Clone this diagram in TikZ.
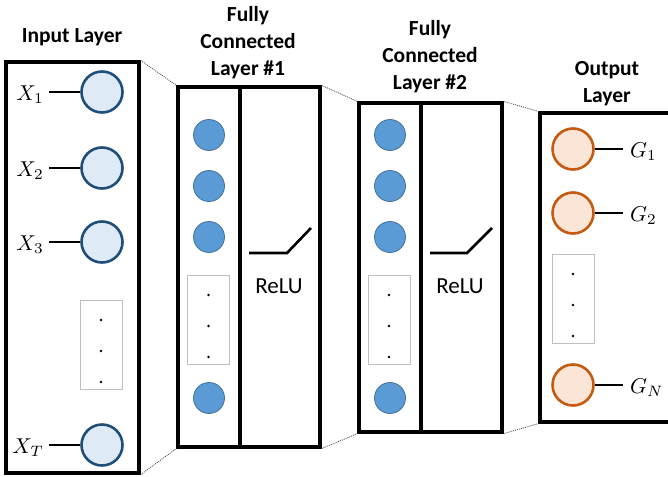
\documentclass[tikz,border=0pt]{standalone}
\usepackage{graphicx}
\usepackage[no-math]{fontspec}
\setmainfont{Carlito}
\usetikzlibrary{calc}
\definecolor{infill}{HTML}{DEEBF7}
\definecolor{inline}{HTML}{1F4E79}
\definecolor{fcfill}{HTML}{5B9BD5}
\definecolor{fcline}{HTML}{41719C}
\definecolor{outfill}{HTML}{FBE5D6}
\definecolor{outline}{HTML}{C55A11}
\definecolor{dotgray}{HTML}{BFBFBF}
\newcommand{\mylabmath}[1]{\scalebox{2.15}{$#1$}}
\begin{document}
\begin{tikzpicture}[x=1pt,y=-1pt,
  layerbox/.style={draw=black, line width=3.2pt, inner sep=0pt},
  incirc/.style={circle, draw=inline, fill=infill, line width=2.6pt, minimum size=41pt, inner sep=0pt},
  fccirc/.style={circle, draw=fcline, fill=fcfill, line width=0.8pt, minimum size=31pt, inner sep=0pt},
  outcirc/.style={circle, draw=outline, fill=outfill, line width=2.6pt, minimum size=41pt, inner sep=0pt},
  dotbox/.style={draw=dotgray, line width=1pt, minimum width=42pt, minimum height=89pt, inner sep=0pt},
  title/.style={font=\fontsize{21.5}{27}\selectfont\bfseries, align=center, inner sep=0pt},
  relutext/.style={font=\fontsize{23}{27}\selectfont, inner sep=0pt},
  mlab/.style={inner sep=0pt},
  link/.style={line width=1.3pt, black},
  joiner/.style={line width=0.8pt, black!70, dash pattern=on 1pt off 1pt},
  relu/.style={line width=2.6pt, black}
]
\useasboundingbox (0,0) rectangle (668,476);
\clip (0,0) rectangle (668,476);

% titles
\node[title] (t0) at (72,37) {Input Layer};
\node[title] (t1) at (248,43) {Fully\\Connected\\Layer \#1};
\node[title] (t2) at (430,57) {Fully\\Connected\\Layer \#2};
\node[title] (t3) at (607,84) {Output\\Layer};

% boxes
\node[layerbox, minimum width=133pt, minimum height=411pt] (ib) at (72.5,267.5) {};
\node[layerbox, minimum width=62pt, minimum height=360pt] (f1a) at (209,267) {};
\node[layerbox, minimum width=80pt, minimum height=360pt] (f1b) at (280,267) {};
\node[layerbox, minimum width=62pt, minimum height=329pt] (f2a) at (390,267.5) {};
\node[layerbox, minimum width=81pt, minimum height=329pt] (f2b) at (461.5,267.5) {};
\node[layerbox, minimum width=150pt, minimum height=309pt] (ob) at (615,267.5) {};

% joining dotted lines
\draw[joiner] (ib.north east) -- (f1a.north west);
\draw[joiner] (ib.south east) -- (f1a.south west);
\draw[joiner] (f1b.north east) -- (f2a.north west);
\draw[joiner] (f1b.south east) -- (f2a.south west);
\draw[joiner] (f2b.north east) -- (ob.north west);
\draw[joiner] (f2b.south east) -- (ob.south west);

% input layer
\node[incirc] (i1) at (102,92) {};
\node[incirc] (i2) at (102,168) {};
\node[incirc] (i3) at (102,242) {};
\node[incirc] (iT) at (102,445) {};
\node[mlab, anchor=base east, inner xsep=5pt] (x1) at (49,100) {\mylabmath{X_1}};
\node[mlab, anchor=base east, inner xsep=5pt] (x2) at (49,176) {\mylabmath{X_2}};
\node[mlab, anchor=base east, inner xsep=5pt] (x3) at (49,250) {\mylabmath{X_3}};
\node[mlab, anchor=base east, inner xsep=5pt] (xT) at (49,453) {\mylabmath{X_T}};
\foreach \n/\c in {x1/i1,x2/i2,x3/i3,xT/iT}
  \draw[link] (\n.east |- \c.west) -- (\c.west);
\node[dotbox] (d0) at (101,344.5) {};
\foreach \dy in {-31,0,31}
  \fill ($(d0.center)+(0,6.5+\dy)$) circle (1.3pt);

% FC layer 1
\node[fccirc] (a1) at (209,135) {};
\node[fccirc] (a2) at (209,186) {};
\node[fccirc] (a3) at (209,237) {};
\node[fccirc] (a4) at (209,398) {};
\node[dotbox] (d1) at (208.5,319.5) {};
\foreach \dy in {-31,0,31}
  \fill ($(d1.center)+(0,6.5+\dy)$) circle (1.3pt);
\coordinate (r1a) at (249,253);
\coordinate (r1b) at (287,253);
\coordinate (r1c) at (311,228);
\draw[relu] (r1a) -- (r1b) -- (r1c);
\node[relutext] (rl1) at (279,286) {ReLU};

% FC layer 2
\node[fccirc] (b1) at (390,135) {};
\node[fccirc] (b2) at (390,186) {};
\node[fccirc] (b3) at (390,237) {};
\node[fccirc] (b4) at (390,398) {};
\node[dotbox] (d2) at (389,319.5) {};
\foreach \dy in {-31,0,31}
  \fill ($(d2.center)+(0,6.5+\dy)$) circle (1.3pt);
\coordinate (r2a) at (430,253);
\coordinate (r2b) at (467,253);
\coordinate (r2c) at (492,228);
\draw[relu] (r2a) -- (r2b) -- (r2c);
\node[relutext] (rl2) at (460,286) {ReLU};

% output layer
\node[outcirc] (o1) at (573,149) {};
\node[outcirc] (o2) at (573,213) {};
\node[outcirc] (oN) at (573,385) {};
\node[mlab, anchor=base west] (g1) at (630,157) {\mylabmath{G_1}};
\node[mlab, anchor=base west] (g2) at (630,221) {\mylabmath{G_2}};
\node[mlab, anchor=base west] (gN) at (630,393) {\mylabmath{G_N}};
\foreach \c/\n in {o1/g1,o2/g2,oN/gN}
  \draw[link, shorten >=7pt] (\c.east) -- (\n.west |- \c.east);
\node[dotbox] (d3) at (573,298.5) {};
\foreach \dy in {-31,0,31}
  \fill ($(d3.center)+(0,6.5+\dy)$) circle (1.3pt);
\end{tikzpicture}
\end{document}
